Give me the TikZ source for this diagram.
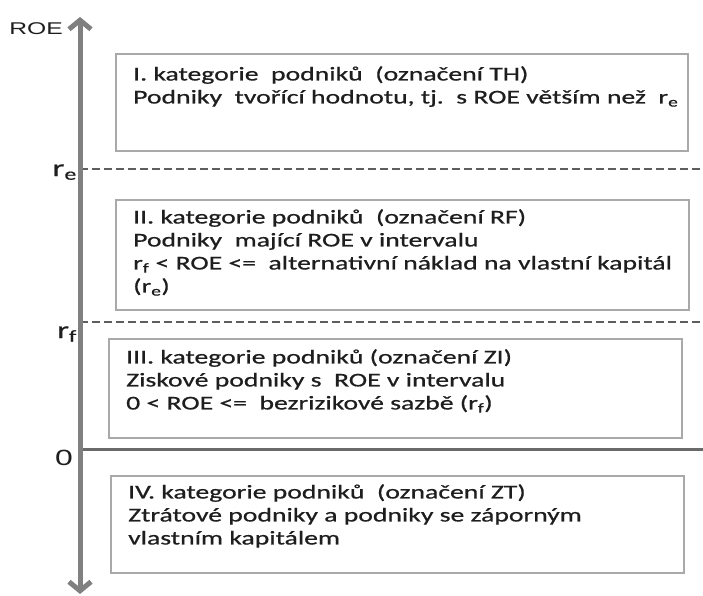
\documentclass[tikz,border=0pt]{standalone}
\usepackage{fontspec}
\setmainfont[FakeStretch=1.42, FakeBold=0.7]{Carlito}
\newfontfamily\roefont[FakeStretch=1.45]{Liberation Sans}
\usetikzlibrary{positioning,arrows.meta}
\definecolor{BoxGray}{HTML}{A9A9A9}
\definecolor{LineGray}{HTML}{5E5E5E}
\definecolor{AxisGray}{HTML}{808080}
\definecolor{ZeroGray}{HTML}{6A6A6A}
\definecolor{TextGray}{HTML}{1E1E1E}
\tikzstyle{CategoryBox}=[rectangle, draw=BoxGray, line width=2pt, fill=white, inner sep=0pt, anchor=north west]
\tikzstyle{CategoryText}=[inner sep=0pt, align=left, text=TextGray, font=\fontsize{19.5}{23}\selectfont]
\tikzstyle{LevelLine}=[draw=LineGray, line width=1.5pt, dash pattern=on 8pt off 4pt]
\tikzstyle{ZeroLine}=[draw=ZeroGray, line width=3pt]
\tikzstyle{AxisLine}=[draw=AxisGray, line width=5pt, {Straight Barb[length=9pt,width=22pt]}-{Straight Barb[length=9pt,width=22pt]}]
\tikzstyle{LevelLabel}=[inner sep=0pt, anchor=base east, text=TextGray, font=\fontsize{24}{24}\selectfont]

\begin{document}
\begin{tikzpicture}[x=1pt, y=-1pt]
			\useasboundingbox (0,0) rectangle (703,596);

			%Ejes
			\coordinate (axis_top)		at (80,17);
			\coordinate (axis_bottom)	at (80,594);
			\coordinate (re_left)		at (80,169);
			\coordinate (re_right)		at (703,169);
			\coordinate (rf_left)		at (80,322);
			\coordinate (rf_right)		at (703,322);
			\coordinate (zero_left)		at (80,449);
			\coordinate (zero_right)	at (703,449);

			%Etiquetas
			\node[LevelLabel, font=\roefont\fontsize{17}{17}\selectfont]	(roe_label)	at (63,35)	{ROE};
			\node[LevelLabel]	(re_label)		at (77,176)		{r\textsubscript{e}};
			\node[LevelLabel]	(rf_label)		at (77,338)		{r\textsubscript{f}};
			\node[LevelLabel, font=\roefont\fontsize{22}{22}\selectfont]	(zero_label)	at (73,465)		{0};

			%Nodos
			\node[CategoryBox, minimum width=572pt, minimum height=97pt]	(cat_th)	at (115,53)	{};
			\node[CategoryText]	(cat_th_text)	[below right=13pt and 18pt of cat_th.north west]
				{I. kategorie\ \ podniků\ \ (označení TH)\\
				 Podniky\ \ tvořící hodnotu, tj.\ \ s ROE větším než\ \ r\textsubscript{e}};

			\node[CategoryBox, minimum width=573pt, minimum height=110pt]	(cat_rf)	at (115,199)	{};
			\node[CategoryText]	(cat_rf_text)	[below right=10pt and 18pt of cat_rf.north west]
				{II. kategorie podniků\ \ (označení RF)\\
				 Podniky\ \ mající ROE v intervalu\\
				 r\textsubscript{f} < ROE <=\ \ alternativní náklad na vlastní kapitál\\
				 (r\textsubscript{e})};

			\node[CategoryBox, minimum width=573pt, minimum height=99pt]	(cat_zi)	at (108,338)	{};
			\node[CategoryText]	(cat_zi_text)	[below right=11pt and 18pt of cat_zi.north west]
				{III. kategorie podniků (označení ZI)\\
				 Ziskové podniky s\ \ ROE v intervalu\\
				 0 < ROE <=\ \ bezrizikové sazbě (r\textsubscript{f})};

			\node[CategoryBox, minimum width=573pt, minimum height=97pt]	(cat_zt)	at (110,475)	{};
			\node[CategoryText]	(cat_zt_text)	[below right=9pt and 18pt of cat_zt.north west]
				{IV. kategorie podniků\ \ (označení ZT)\\
				 Ztrátové podniky a podniky se záporným\\
				 vlastním kapitálem};

			%Lineas
			\draw[LevelLine] (re_left) -- (re_right);
			\draw[LevelLine] (rf_left) -- (rf_right);
			\draw[ZeroLine] (zero_left) -- (zero_right);
			\draw[AxisLine] (axis_bottom) -- (axis_top);

		\end{tikzpicture}
\end{document}
